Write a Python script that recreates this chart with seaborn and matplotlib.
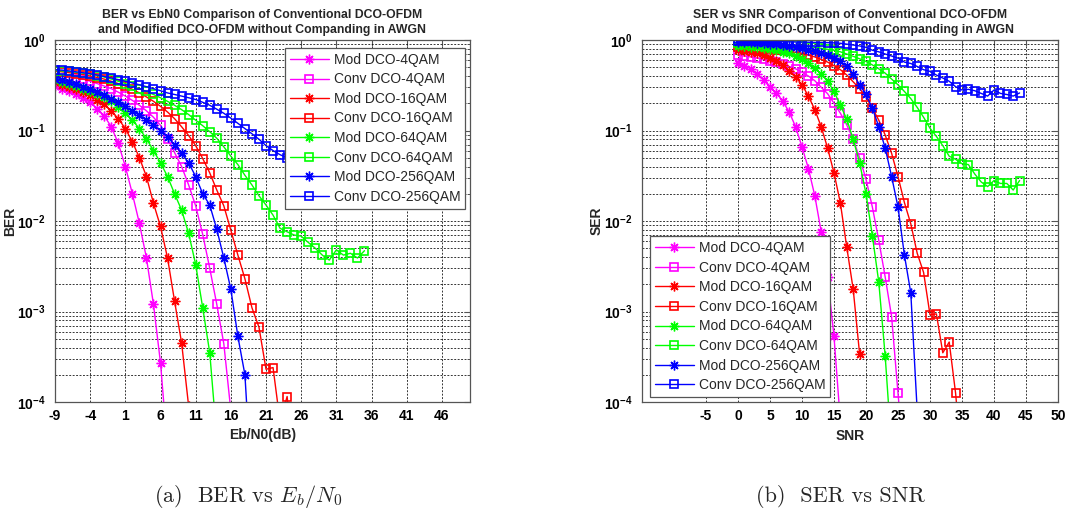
import numpy as np
import matplotlib
matplotlib.use("Agg")
import matplotlib.pyplot as plt
import seaborn as sns
from matplotlib.ticker import LogLocator, NullFormatter

sns.set_style("white")
plt.rcParams["font.family"] = ["Liberation Sans", "DejaVu Sans"]
plt.rcParams["mathtext.fontset"] = "custom"
plt.rcParams["mathtext.rm"] = "Liberation Sans"
plt.rcParams["mathtext.bf"] = "Liberation Sans:bold"

# ---------------- data: (a) BER vs Eb/N0 ----------------
ebn0 = np.arange(-9, 36)
mod4_ber = [0.31, 0.29, 0.27, 0.25, 0.23, 0.205, 0.175, 0.145, 0.11, 0.072, 0.04, 0.02,
            0.0094, 0.0039, 0.0012, 0.00027, 0.00003]
conv4_ber = [0.42, 0.41, 0.40, 0.385, 0.37, 0.35, 0.33, 0.31, 0.29, 0.265, 0.24, 0.215,
             0.19, 0.165, 0.14, 0.114, 0.081, 0.057, 0.040, 0.025, 0.0147, 0.0071, 0.0030,
             0.0012, 0.00044, 0.00008]
mod16_ber = [0.34, 0.32, 0.30, 0.285, 0.265, 0.245, 0.22, 0.195, 0.165, 0.135, 0.105, 0.075,
             0.05, 0.031, 0.0157, 0.0087, 0.0039, 0.0013, 0.00045, 0.00009]
conv16_ber = [0.45, 0.445, 0.435, 0.425, 0.415, 0.40, 0.385, 0.37, 0.35, 0.33, 0.31, 0.285,
              0.26, 0.235, 0.21, 0.185, 0.16, 0.135, 0.11, 0.088, 0.068, 0.049, 0.034, 0.022,
              0.0147, 0.0079, 0.0042, 0.0023, 0.0011, 0.00067, 0.00023, 0.00024, 0.00006,
              0.000115, 0.00002]
mod64_ber = [0.36, 0.345, 0.33, 0.31, 0.29, 0.27, 0.255, 0.235, 0.21, 0.18, 0.155, 0.13,
             0.105, 0.081, 0.060, 0.044, 0.031, 0.020, 0.0132, 0.0073, 0.0033, 0.0011,
             0.00035, 0.00004]
conv64_ber = [0.46, 0.455, 0.45, 0.44, 0.43, 0.42, 0.405, 0.39, 0.37, 0.35, 0.33, 0.31,
              0.29, 0.27, 0.25, 0.23, 0.21, 0.19, 0.17, 0.15, 0.13, 0.113, 0.097, 0.082,
              0.066, 0.052, 0.042, 0.032, 0.025, 0.019, 0.015, 0.0116, 0.0083, 0.0076,
              0.0070, 0.0068, 0.0058, 0.0050, 0.0042, 0.0037, 0.0048, 0.0042, 0.0044,
              0.0039, 0.0047]
mod256_ber = [0.375, 0.36, 0.345, 0.325, 0.305, 0.285, 0.265, 0.245, 0.225, 0.205, 0.185,
              0.165, 0.15, 0.13, 0.115, 0.10, 0.085, 0.069, 0.056, 0.044, 0.031, 0.020,
              0.015, 0.0081, 0.0039, 0.00176, 0.00053, 0.0002, 0.00001]
conv256_ber = [0.47, 0.465, 0.455, 0.445, 0.435, 0.425, 0.41, 0.395, 0.38, 0.365, 0.35,
               0.335, 0.32, 0.305, 0.29, 0.275, 0.26, 0.25, 0.24, 0.23, 0.22, 0.205, 0.19,
               0.172, 0.155, 0.137, 0.12, 0.105, 0.092, 0.08, 0.068, 0.06, 0.054, 0.05,
               0.046, 0.043, 0.04, 0.037, 0.035, 0.033, 0.031, 0.029, 0.028, 0.027, 0.026]

# ---------------- data: (b) SER vs SNR ----------------
snr = np.arange(0, 45)
mod4_ser = [0.55, 0.52, 0.48, 0.42, 0.36, 0.305, 0.26, 0.21, 0.16, 0.11, 0.066, 0.038,
            0.019, 0.0076, 0.0024, 0.00053, 0.00006]
conv4_ser = [0.68, 0.665, 0.65, 0.63, 0.61, 0.59, 0.565, 0.54, 0.51, 0.48, 0.44, 0.40,
             0.355, 0.30, 0.255, 0.2, 0.155, 0.115, 0.08, 0.05, 0.029, 0.0142, 0.0061,
             0.0024, 0.00088, 0.000125, 0.00002]
mod16_ser = [0.78, 0.76, 0.74, 0.71, 0.68, 0.64, 0.59, 0.53, 0.46, 0.39, 0.32, 0.24, 0.17,
             0.11, 0.064, 0.034, 0.0157, 0.0051, 0.00176, 0.00034]
conv16_ser = [0.84, 0.835, 0.83, 0.82, 0.81, 0.80, 0.785, 0.77, 0.75, 0.73, 0.71, 0.68,
              0.65, 0.61, 0.57, 0.52, 0.47, 0.41, 0.345, 0.29, 0.235, 0.176, 0.13, 0.089,
              0.056, 0.031, 0.016, 0.0093, 0.0044, 0.0027, 0.00092, 0.00094, 0.00035,
              0.00046, 0.000125, 0.00002]
mod64_ser = [0.86, 0.85, 0.84, 0.83, 0.81, 0.79, 0.77, 0.74, 0.71, 0.67, 0.62, 0.56, 0.49,
             0.42, 0.35, 0.27, 0.19, 0.133, 0.08, 0.044, 0.020, 0.0068, 0.0021, 0.00032,
             0.00003]
conv64_ser = [0.93, 0.925, 0.92, 0.915, 0.91, 0.905, 0.90, 0.89, 0.88, 0.87, 0.86, 0.845,
              0.83, 0.81, 0.79, 0.77, 0.74, 0.70, 0.66, 0.62, 0.58, 0.53, 0.48, 0.43, 0.37,
              0.32, 0.27, 0.225, 0.18, 0.14, 0.106, 0.086, 0.068, 0.052, 0.048, 0.043,
              0.042, 0.033, 0.027, 0.024, 0.028, 0.026, 0.026, 0.022, 0.028]
mod256_ser = [0.95, 0.945, 0.94, 0.93, 0.92, 0.91, 0.895, 0.88, 0.86, 0.84, 0.81, 0.78,
              0.75, 0.72, 0.68, 0.63, 0.58, 0.51, 0.42, 0.32, 0.25, 0.176, 0.11, 0.064,
              0.031, 0.0143, 0.0042, 0.0016, 0.00008]
conv256_ser = [0.975, 0.975, 0.97, 0.97, 0.965, 0.965, 0.96, 0.96, 0.955, 0.95, 0.95,
               0.945, 0.94, 0.94, 0.935, 0.93, 0.92, 0.90, 0.88, 0.86, 0.83, 0.77, 0.74,
               0.70, 0.665, 0.63, 0.57, 0.55, 0.51, 0.47, 0.45, 0.41, 0.38, 0.35, 0.305,
               0.28, 0.285, 0.275, 0.257, 0.24, 0.28, 0.257, 0.25, 0.24, 0.26]

labels = ["Mod DCO-4QAM", "Conv DCO-4QAM", "Mod DCO-16QAM", "Conv DCO-16QAM",
          "Mod DCO-64QAM", "Conv DCO-64QAM", "Mod DCO-256QAM", "Conv DCO-256QAM"]
colors = ["#FF00FF", "#FF00FF", "#FF0000", "#FF0000", "#00FF00", "#00FF00", "#0000FF", "#0000FF"]
kinds = ["mod", "conv"] * 4

ber_series = [mod4_ber, conv4_ber, mod16_ber, conv16_ber, mod64_ber, conv64_ber, mod256_ber, conv256_ber]
ser_series = [mod4_ser, conv4_ser, mod16_ser, conv16_ser, mod64_ser, conv64_ser, mod256_ser, conv256_ser]

fig = plt.figure(figsize=(10.67, 5.29), dpi=100)
W, H = 1067, 529
ax1 = fig.add_axes([55 / W, (H - 402) / H, 415 / W, 362 / H])
ax2 = fig.add_axes([642 / W, (H - 402) / H, 416 / W, 362 / H])

GRID = dict(color="black", linestyle=(0, (2.5, 2.0)), linewidth=0.55)


def draw(ax, x, series):
    ax.set_yscale("log")
    for lab, vals, col, kind in zip(labels, series, colors, kinds):
        xs = x[:len(vals)]
        if kind == "mod":
            kw = dict(marker=(8, 2, 0), markersize=7, markeredgewidth=1.0,
                      markeredgecolor=col, markerfacecolor=col)
        else:
            kw = dict(marker="s", markersize=6, markeredgewidth=1.2,
                      markeredgecolor=col, markerfacecolor="none")
        sns.lineplot(x=xs, y=vals, ax=ax, color=col, linewidth=1.0, label=lab,
                     estimator=None, sort=False, **kw)


def style(ax, xticks, xlim, title, xlabel, ylabel, ylab_x):
    ax.set_xlim(*xlim)
    ax.set_ylim(1e-4, 1)
    ax.set_xticks(xticks)
    ax.set_xticklabels([str(t) for t in xticks], fontweight="bold", fontsize=10)
    yt = [1e-4, 1e-3, 1e-2, 1e-1, 1]
    ax.set_yticks(yt)
    ax.set_yticklabels([r"$\mathbf{10^{%d}}$" % e for e in [-4, -3, -2, -1, 0]], fontsize=10)
    ax.yaxis.set_minor_locator(LogLocator(base=10, subs=np.arange(2, 10)))
    ax.yaxis.set_minor_formatter(NullFormatter())
    ax.grid(True, which="major", axis="both", **GRID)
    ax.grid(True, which="minor", axis="y", **GRID)
    ax.tick_params(which="both", direction="in", top=True, right=True, colors="#555555",
                   labelcolor="black")
    ax.tick_params(which="major", length=4, width=0.8)
    ax.tick_params(which="minor", length=2, width=0.6)
    ax.tick_params(axis="x", pad=5)
    ax.tick_params(axis="y", pad=7)
    for s in ax.spines.values():
        s.set_color("#555555")
        s.set_linewidth(0.9)
    ax.set_title(title, fontsize=8.8, fontweight="bold", pad=5, linespacing=1.35)
    ax.set_xlabel(xlabel, fontweight="bold", fontsize=10, labelpad=4)
    ax.set_ylabel(ylabel, fontweight="bold", fontsize=10)
    ax.yaxis.set_label_coords(ylab_x, 0.5)


draw(ax1, ebn0, ber_series)
draw(ax2, snr, ser_series)

style(ax1, list(range(-9, 47, 5)), (-9, 50),
      "BER vs EbN0 Comparison of Conventional DCO-OFDM\nand Modified DCO-OFDM without Companding in AWGN",
      "Eb/N0(dB)", "BER", (17 - 55) / 415)
style(ax2, list(range(-5, 51, 5)), (-15, 50),
      "SER vs SNR Comparison of Conventional DCO-OFDM\nand Modified DCO-OFDM without Companding in AWGN",
      "SNR", "SER", (604 - 642) / 416)

LEG = dict(fontsize=10, frameon=True, fancybox=False, framealpha=1, edgecolor="#555555",
           handlelength=2.8, handletextpad=0.35, borderpad=0.35, labelspacing=0.4,
           borderaxespad=0.0)
leg1 = ax1.legend(loc="upper right", bbox_to_anchor=(0.988, 0.978), **LEG)
leg2 = ax2.legend(loc="lower left", bbox_to_anchor=(0.019, 0.014), **LEG)
for leg in (leg1, leg2):
    leg.get_frame().set_linewidth(0.9)

fig.text(248 / W, 1 - 497 / H, r"(a)  BER vs $E_b/N_0$", ha="center", va="center",
         fontsize=16, family="cmr10", math_fontfamily="cm")
fig.text(840 / W, 1 - 497 / H, "(b)  SER vs SNR", ha="center", va="center",
         fontsize=16, family="cmr10")

fig.savefig("out.png", dpi=100)
